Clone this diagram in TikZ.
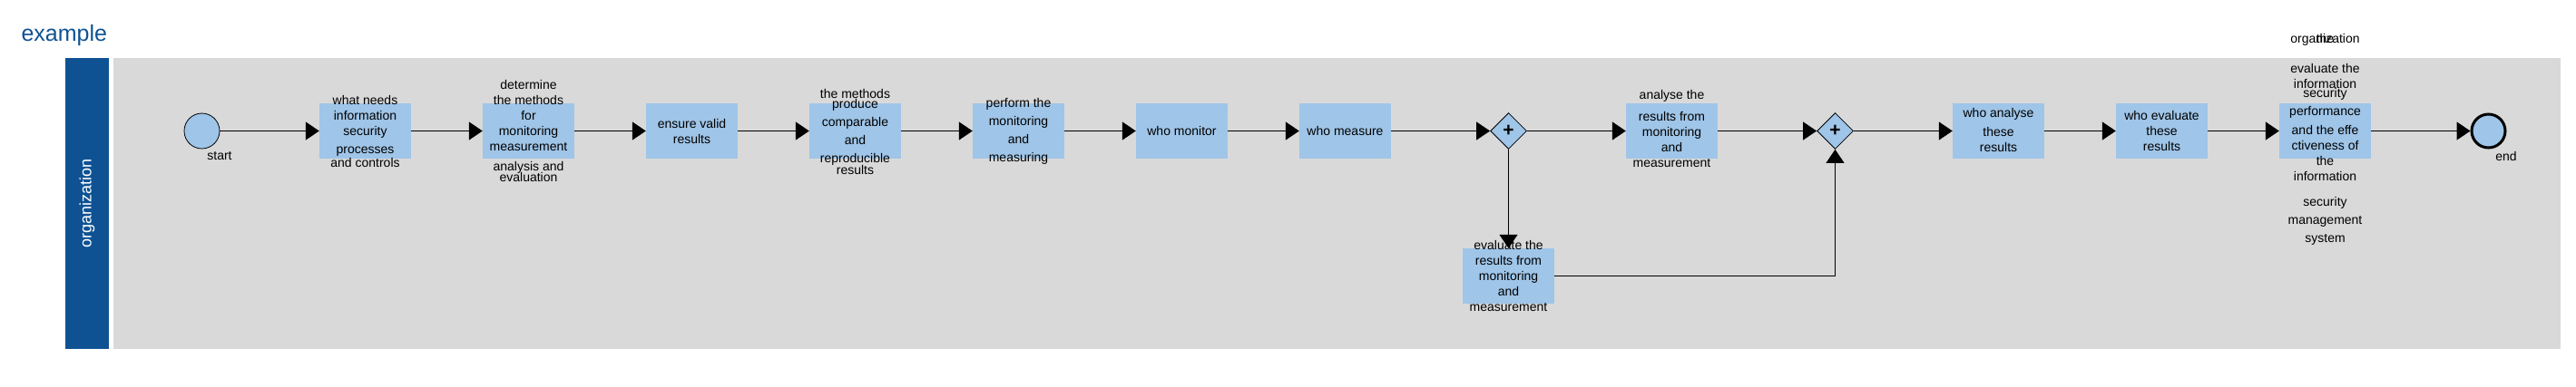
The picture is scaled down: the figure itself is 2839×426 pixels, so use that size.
\documentclass[tikz,border=0pt]{standalone}
\usepackage{fontspec}
\setmainfont{Liberation Sans}
\usetikzlibrary{arrows.meta,shapes.geometric}

\definecolor{poolblue}{RGB}{14,82,148}
\definecolor{taskblue}{RGB}{159,197,232}
\definecolor{lanegray}{RGB}{217,217,217}

\begin{document}
\begin{tikzpicture}[
    x=1pt, y=-1pt,
    task/.style={rectangle,fill=taskblue,minimum width=101pt,minimum height=61pt,inner sep=0pt},
    txt/.style={align=center,inner sep=0pt,font=\fontsize{14}{17}\selectfont},
    gateway/.style={diamond,draw,fill=taskblue,minimum width=40pt,minimum height=40pt,inner sep=0pt,line width=0.8pt,font=\fontsize{21}{21}\selectfont\bfseries},
    startev/.style={circle,draw,fill=taskblue,minimum size=39pt,inner sep=0pt,line width=0.8pt},
    endev/.style={circle,draw,fill=taskblue,minimum size=37pt,inner sep=0pt,line width=3pt},
    flow/.style={line width=1.2pt,-{Triangle[length=15pt,width=20pt]}}
]
    \useasboundingbox (0,0) rectangle (2839,426);

    % Pool header and lane
    \fill[poolblue] (72,64) rectangle (120,385);
    \fill[lanegray] (125,64) rectangle (2822,385);
    \node[rotate=90,text=white,font=\fontsize{18}{18}\selectfont] (pool) at (96,224.5) {organization};
    \node[anchor=base west,text=poolblue,font=\fontsize{25}{25}\selectfont] (title) at (20,45) {example};

    % Events, tasks and gateways (one step is 180)
    \node[startev] (start)   at (222.5,144.5)  {};
    \node[task]    (needs)   at (402.5,144.5)  {};
    \node[task]    (methods) at (582.5,144.5)  {};
    \node[task]    (valid)   at (762.5,144.5)  {};
    \node[task]    (repro)   at (942.5,144.5)  {};
    \node[task]    (perform) at (1122.5,144.5) {};
    \node[task]    (monitor) at (1302.5,144.5) {};
    \node[task]    (measure) at (1482.5,144.5) {};
    \node[gateway] (gA)      at (1662.5,144.5) {+};
    \node[task]    (evalres) at (1662.5,304.5) {};
    \node[task]    (analyse) at (1842.5,144.5) {};
    \node[gateway] (gB)      at (2022.5,144.5) {+};
    \node[task]    (whoan)   at (2202.5,144.5) {};
    \node[task]    (whoev)   at (2382.5,144.5) {};
    \node[task]    (isms)    at (2562.5,144.5) {};
    \node[endev]   (stop)    at (2742.5,144.5) {};

    % Texts
    \node[txt] (start-t)   at (242,172)      {start};
    \node[txt] (stop-t)    at (2762,172)     {end};
    \node[txt] (needs-t)   at (needs)        {what needs\\information\\security\\[3pt]processes\\[-2pt]and controls};
    \node[txt] (methods-t) at (methods)      {determine\\the methods\\for\\monitoring\\measurement\\[5pt]analysis and\\[-5pt]evaluation};
    \node[txt] (valid-t)   at (valid)        {ensure valid\\results};
    \node[txt] (repro-t)   at (942.5,145.5)  {the methods\\[-6pt]produce\\[3pt]comparable\\[3pt]and\\[3pt]reproducible\\[-4pt]results};
    \node[txt] (perform-t) at (perform)      {perform the\\[3pt]monitoring\\[3pt]and\\[3pt]measuring};
    \node[txt] (monitor-t) at (monitor)      {who monitor};
    \node[txt] (measure-t) at (measure)      {who measure};
    \node[txt] (evalres-t) at (evalres)      {evaluate the\\results from\\monitoring\\and\\measurement};
    \node[txt] (analyse-t) at (1842.5,141.7) {analyse the\\[7pt]results from\\monitoring\\and\\measurement};
    \node[txt] (whoan-t)   at (2202.5,143)   {who analyse\\[4pt]these\\results};
    \node[txt] (whoev-t)   at (whoev)        {who evaluate\\these\\results};
    \node[txt] (isms-t)    at (2562.5,154.3) {\makebox[0pt]{organization}\makebox[0pt]{the}\\[16pt]evaluate the\\information\\[-7pt]security\\[3pt]performance\\[4pt]and the effe\\ctiveness of\\the\\information\\[11pt]security\\[3pt]management\\[3pt]system};

    % Sequence flows
    \draw[flow] (start)   -- (needs);
    \draw[flow] (needs)   -- (methods);
    \draw[flow] (methods) -- (valid);
    \draw[flow] (valid)   -- (repro);
    \draw[flow] (repro)   -- (perform);
    \draw[flow] (perform) -- (monitor);
    \draw[flow] (monitor) -- (measure);
    \draw[flow] (measure) -- (gA);
    \draw[flow] (gA)      -- (analyse);
    \draw[flow] (gA)      -- (evalres);
    \draw[flow] (analyse) -- (gB);
    \draw[flow] (evalres) -| (gB);
    \draw[flow] (gB)      -- (whoan);
    \draw[flow] (whoan)   -- (whoev);
    \draw[flow] (whoev)   -- (isms);
    \draw[flow] (isms)    -- (stop);
\end{tikzpicture}
\end{document}
